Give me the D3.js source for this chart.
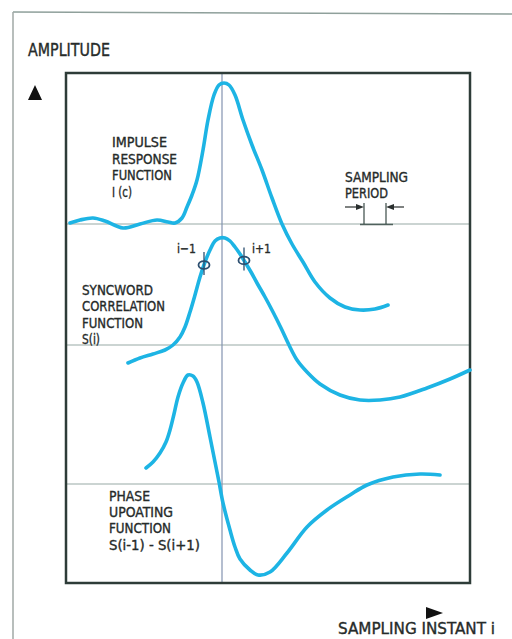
<!DOCTYPE html>
<html><head><meta charset="utf-8">
<script src="https://cdn.jsdelivr.net/npm/d3@7"></script>
<style>
html,body{margin:0;padding:0;background:#fff;}
text{font-family:"Liberation Sans Narrow","DejaVu Sans Condensed","Liberation Sans",sans-serif;fill:#262b2a;stroke:#262b2a;stroke-width:0.35px;}
</style></head>
<body>
<svg id="c" width="512" height="639"></svg>
<script>
// ---- data (x in sampling instants relative to i, y in amplitude) ----
const impulseT = [-7.6,-7.1,-6.45,-5.85,-4.95,-4.1,-3.25,-2.7,-2.35,-2.0,-1.75,-1.5,-1.25,-0.95,-0.7,-0.4,-0.15,0.1,0.35,0.65,1.05,1.5,2.0,2.5,3.0,3.5,4.05,4.65,5.4,6.15,6.9,7.65,8.3];
const impulseA = [0.01,0.04,0.06,0.03,-0.04,0,0.04,0.02,0.01,0.06,0.17,0.29,0.44,0.74,1.04,1.29,1.39,1.41,1.39,1.29,1.04,0.79,0.54,0.26,0,-0.2,-0.38,-0.58,-0.74,-0.83,-0.86,-0.85,-0.81];
const syncT = [-4.7,-4.1,-3.45,-2.85,-2.45,-2.1,-1.85,-1.6,-1.35,-1.1,-0.85,-0.6,-0.35,-0.1,0.15,0.4,0.65,0.9,1.15,1.45,1.75,2.15,2.55,2.95,3.35,3.75,4.25,4.9,5.9,6.9,7.9,8.9,10.25,11.4,12.4];
const syncA = [-0.18,-0.13,-0.09,-0.05,0,0.08,0.18,0.33,0.5,0.68,0.83,0.95,1.04,1.07,1.07,1.04,0.98,0.91,0.83,0.73,0.62,0.48,0.33,0.17,0,-0.15,-0.27,-0.39,-0.5,-0.55,-0.55,-0.52,-0.43,-0.34,-0.25];
const phaseT = [-3.8,-3.45,-3.1,-2.8,-2.6,-2.4,-2.2,-1.95,-1.7,-1.45,-1.25,-0.95,-0.6,-0.35,-0.15,0.05,0.4,0.65,0.9,1.4,1.8,2.4,3.25,4.25,5.25,6.4,7.25,8.55,9.9,10.9];
const phaseA = [0.16,0.22,0.31,0.42,0.54,0.7,0.87,1.01,1.09,1.08,1.02,0.81,0.47,0.22,0.02,-0.19,-0.46,-0.63,-0.75,-0.86,-0.91,-0.88,-0.69,-0.43,-0.26,-0.11,-0.01,0.07,0.1,0.09];
const markerT = [-0.9, 1.1];
const markerLabels = ["i\u22121", "i+1"];
const samplingPeriodT = [7.1, 8.2];
const impulseLabel = ["IMPULSE","RESPONSE","FUNCTION","I (c)"];
const syncLabel = ["SYNCWORD","CORRELATION","FUNCTION","S(i)"];
const phaseLabel = ["PHASE","UPOATING","FUNCTION","S(i-1)  -  S(i+1)"];
const periodLabel = ["SAMPLING","PERIOD"];
const yTitle = "AMPLITUDE";
const xTitle = "SAMPLING INSTANT i";

// ---- layout ----
const svg = d3.select("#c");
const box = {l:66, t:73, r:470, b:583};
const x = d3.scaleLinear().domain([-7.8, 12.4]).range([box.l, box.r]);
const panel = base => d3.scaleLinear().domain([0,1]).range([base, base-100]);
const yI = panel(224), yS = panel(345), yP = panel(484);

// outer frame
svg.append("line").attr("x1",13).attr("y1",12).attr("x2",512).attr("y2",14).attr("stroke","#8fa09b").attr("stroke-width",1.5);
svg.append("line").attr("x1",13).attr("y1",12).attr("x2",13).attr("y2",639).attr("stroke","#a0a8a6").attr("stroke-width",1.5);

// grid lines
[yI, yS, yP].forEach(s => {
  svg.append("line").attr("x1",box.l).attr("x2",box.r).attr("y1",s(0)).attr("y2",s(0))
    .attr("stroke","#98aaa6").attr("stroke-width",1.2);
});
svg.append("line").attr("x1",x(0)).attr("x2",x(0)).attr("y1",box.t).attr("y2",box.b)
  .attr("stroke","#8393b0").attr("stroke-width",1.2);

// inner box
svg.append("rect").attr("x",box.l).attr("y",box.t).attr("width",box.r-box.l).attr("height",box.b-box.t)
  .attr("fill","none").attr("stroke","#2e3c38").attr("stroke-width",2.5);

// curves
const line = s => d3.line().x(d=>x(d[0])).y(d=>s(d[1])).curve(d3.curveCatmullRom.alpha(0.5));
const drawCurve = (T, A, s) => svg.append("path").datum(d3.zip(T, A)).attr("d", line(s))
  .attr("fill","none").attr("stroke","#1db4e4").attr("stroke-width",3.6)
  .attr("stroke-linecap","round").attr("stroke-linejoin","round");
drawCurve(impulseT, impulseA, yI);
drawCurve(syncT, syncA, yS);
drawCurve(phaseT, phaseA, yP);

// markers at i-1, i+1 on sync curve
const syncInterp = t => {
  const i = d3.bisectLeft(syncT, t);
  const f = (t - syncT[i-1])/(syncT[i]-syncT[i-1]);
  return syncA[i-1] + f*(syncA[i]-syncA[i-1]);
};
markerT.forEach((t, k) => {
  const cx = x(t), cy = yS(syncInterp(t));
  svg.append("line").attr("x1",cx).attr("x2",cx).attr("y1",cy-13).attr("y2",cy+10)
    .attr("stroke","#2c4f70").attr("stroke-width",1.3);
  svg.append("ellipse").attr("cx",cx).attr("cy",cy).attr("rx",5.5).attr("ry",3.8)
    .attr("fill","none").attr("stroke","#2c4f70").attr("stroke-width",1.8);
  const lx = k === 0 ? cx - 27 : cx + 8;
  svg.append("text").attr("x",lx).attr("y",253).attr("font-size",13)
    .attr("textLength",19).attr("lengthAdjust","spacingAndGlyphs").text(markerLabels[k]);
});

// sampling period indicator
const [sp0, sp1] = samplingPeriodT.map(x);
const py0 = yI(0);
svg.append("line").attr("x1",sp0-4).attr("x2",sp1+7).attr("y1",py0+0.5).attr("y2",py0+0.5).attr("stroke","#4f615c").attr("stroke-width",1.5);
[sp0, sp1].forEach(px => svg.append("line").attr("x1",px).attr("x2",px).attr("y1",py0-21).attr("y2",py0)
  .attr("stroke","#3a4a46").attr("stroke-width",1.2));
svg.append("line").attr("x1",sp0-19).attr("x2",sp0-6).attr("y1",py0-17).attr("y2",py0-17).attr("stroke","#2a2f2e").attr("stroke-width",1.2);
svg.append("path").attr("d",`M${sp0},${py0-17} L${sp0-8},${py0-20} L${sp0-8},${py0-14} Z`).attr("fill","#2a2f2e");
svg.append("line").attr("x1",sp1+6).attr("x2",sp1+18).attr("y1",py0-17).attr("y2",py0-17).attr("stroke","#2a2f2e").attr("stroke-width",1.2);
svg.append("path").attr("d",`M${sp1},${py0-17} L${sp1+8},${py0-20} L${sp1+8},${py0-14} Z`).attr("fill","#2a2f2e");

// text blocks
const block = (lines, x0, y0, dy, widths, fs) => lines.forEach((s, i) => {
  svg.append("text").attr("x",x0).attr("y",y0+i*dy).attr("font-size",fs)
    .attr("textLength",widths[i]).attr("lengthAdjust","spacingAndGlyphs").text(s);
});
block([yTitle], 28, 56, 0, [82], 17);
block(impulseLabel, 112, 147, 16.5, [55,65,60,20], 14);
block(periodLabel, 345, 182, 16, [63,43], 14);
block(syncLabel, 82, 295, 16.3, [71,83,61,18], 14);
block(phaseLabel, 109, 501, 16.2, [41,64,62,91], 14);
block([xTitle], 338, 634, 0, [157], 16);

// axis arrows
svg.append("path").attr("d","M35,85 L42,100 L28,100 Z").attr("fill","#111");
svg.append("path").attr("d","M426,607 L443,613 L426,619 Z").attr("fill","#111");
</script>
</body></html>
